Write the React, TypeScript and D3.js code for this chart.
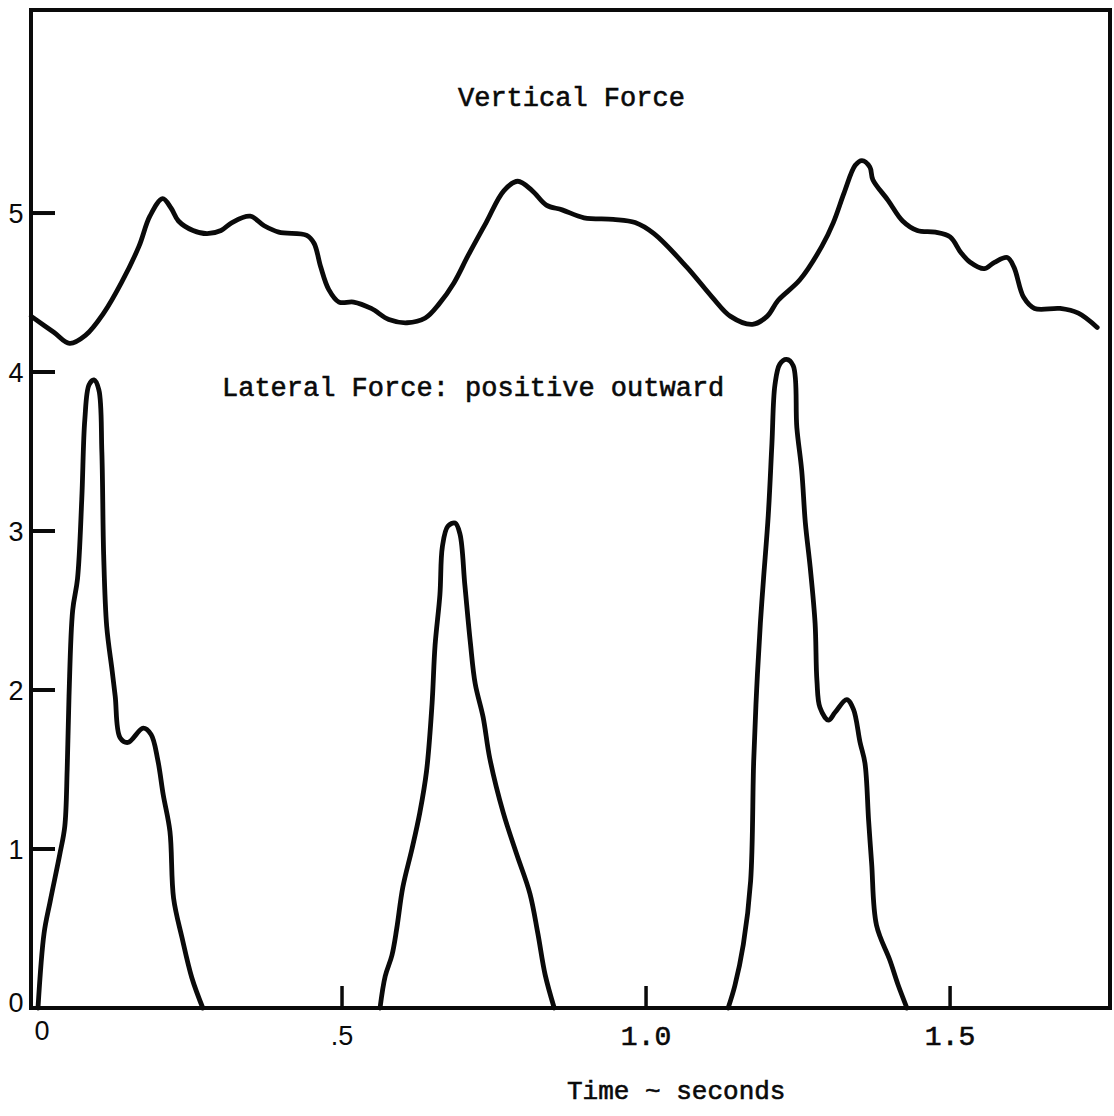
import React, { useRef, useEffect } from "react";
import * as d3 from "d3";

// vertical force trace (time in s, force units)
const verticalTime = [
  -0.011, 0.026, 0.052, 0.078, 0.108, 0.137, 0.166, 0.184, 0.205, 0.219, 0.231,
  0.255, 0.278, 0.301, 0.319, 0.349, 0.372, 0.396, 0.442, 0.454, 0.465, 0.478,
  0.495, 0.519, 0.548, 0.577, 0.607, 0.637, 0.66, 0.684, 0.707, 0.737, 0.766,
  0.789, 0.813, 0.836, 0.862, 0.898, 0.946, 0.982, 1.013, 1.067, 1.109, 1.139,
  1.175, 1.199, 1.217, 1.253, 1.289, 1.308, 1.326, 1.344, 1.355, 1.368, 1.373,
  1.398, 1.422, 1.446, 1.476, 1.5, 1.518, 1.533, 1.556, 1.573, 1.594, 1.605,
  1.621, 1.639, 1.681, 1.711, 1.742,
];
const verticalForce = [
  4.35, 4.25, 4.18, 4.23, 4.37, 4.56, 4.79, 4.98, 5.09, 5.03, 4.95,
  4.89, 4.87, 4.89, 4.94, 4.98, 4.92, 4.88, 4.86, 4.81, 4.66, 4.52,
  4.44, 4.44, 4.4, 4.33, 4.31, 4.34, 4.43, 4.56, 4.73, 4.94, 5.14,
  5.2, 5.14, 5.05, 5.02, 4.97, 4.96, 4.94, 4.87, 4.66, 4.47, 4.35,
  4.3, 4.35, 4.45, 4.58, 4.79, 4.94, 5.13, 5.3, 5.33, 5.29, 5.21,
  5.08, 4.95, 4.89, 4.88, 4.85, 4.75, 4.69, 4.65, 4.69, 4.72, 4.66,
  4.47, 4.4, 4.4, 4.37, 4.28,
];

// lateral force pulses
const lateral1Time = [
  0, 0.01, 0.02, 0.036, 0.044, 0.048, 0.051, 0.057, 0.065, 0.072, 0.077,
  0.084, 0.092, 0.1, 0.105, 0.108, 0.113, 0.122, 0.127, 0.135, 0.148, 0.173,
  0.186, 0.197, 0.206, 0.217, 0.223, 0.237, 0.253, 0.271,
];
const lateral1Force = [
  0, 0.47, 0.67, 0.97, 1.14, 1.5, 1.96, 2.5, 2.7, 3.2, 3.7,
  3.92, 3.95, 3.89, 3.5, 2.85, 2.4, 2.12, 1.96, 1.7, 1.67, 1.76,
  1.72, 1.56, 1.34, 1.11, 0.69, 0.44, 0.19, 0,
];
const lateral2Time = [
  0.5625, 0.571, 0.582, 0.59, 0.6, 0.615, 0.628, 0.639, 0.648, 0.653, 0.661,
  0.665, 0.674, 0.686, 0.694, 0.702, 0.711, 0.719, 0.732, 0.743, 0.765, 0.787,
  0.809, 0.822, 0.834, 0.849,
];
const lateral2Force = [
  0, 0.2, 0.33, 0.5, 0.76, 1.0, 1.23, 1.49, 1.91, 2.28, 2.6,
  2.9, 3.03, 3.05, 2.98, 2.66, 2.3, 2.04, 1.83, 1.57, 1.23, 0.97,
  0.72, 0.47, 0.21, 0,
];
const lateral3Time = [
  1.135, 1.146, 1.16, 1.172, 1.177, 1.182, 1.188, 1.193, 1.201, 1.207,
  1.212, 1.22, 1.231, 1.242, 1.248, 1.256, 1.262, 1.27, 1.278, 1.281, 1.286,
  1.3, 1.311, 1.33, 1.341, 1.352, 1.36, 1.366, 1.371, 1.379, 1.401, 1.415, 1.429,
];
const lateral3Force = [
  0, 0.14, 0.4, 0.8, 1.55, 2.01, 2.42, 2.69, 3.1, 3.55,
  3.92, 4.05, 4.08, 4.04, 3.65, 3.38, 3.05, 2.77, 2.42, 2.06, 1.89,
  1.81, 1.86, 1.94, 1.88, 1.67, 1.54, 1.18, 0.91, 0.52, 0.3, 0.14, 0,
];

const yTickValues = [0, 1, 2, 3, 4, 5];
const xTickValues = [0, 0.5, 1.0, 1.5];
const xTickLabels = ["0", ".5", "1.0", "1.5"];

const App = () => {
  const svgRef = useRef(null);

  useEffect(() => {
    const svg = d3.select(svgRef.current);
    svg.selectAll("*").remove();
    const width = 1114;
    const height = 1116;
    const left = 31;
    const right = 1110;
    const top = 10;
    const bottom = 1008;
    const ink = "#0a0a0a";
    const mono = "'Courier New', 'Liberation Mono', monospace";
    const sans = "'Liberation Sans', Arial, sans-serif";

    svg.attr("width", width).attr("height", height);
    svg.append("rect").attr("width", width).attr("height", height).attr("fill", "#fff");

    const x = d3.scaleLinear().domain([-0.0115, 1.763]).range([left, right]);
    const y = d3.scaleLinear().domain([0, 6.277]).range([bottom, top]);

    // frame
    svg
      .append("rect")
      .attr("x", left)
      .attr("y", top)
      .attr("width", right - left)
      .attr("height", bottom - top)
      .attr("fill", "none")
      .attr("stroke", ink)
      .attr("stroke-width", 4);

    // y ticks (no tick mark at 0)
    svg
      .selectAll(".ytick")
      .data(yTickValues.filter((d) => d > 0))
      .enter()
      .append("line")
      .attr("x1", left)
      .attr("x2", left + 24)
      .attr("y1", (d) => y(d))
      .attr("y2", (d) => y(d))
      .attr("stroke", ink)
      .attr("stroke-width", 4);

    svg
      .selectAll(".ylab")
      .data(yTickValues)
      .enter()
      .append("text")
      .attr("x", 16)
      .attr("y", (d) => (d === 0 ? y(d) + 4 : y(d) + 10))
      .attr("text-anchor", "middle")
      .attr("font-family", sans)
      .attr("font-size", 27)
      .attr("fill", ink)
      .text((d) => d);

    // x ticks (pointing up, none at 0)
    svg
      .selectAll(".xtick")
      .data(xTickValues.filter((d) => d > 0))
      .enter()
      .append("line")
      .attr("x1", (d) => x(d))
      .attr("x2", (d) => x(d))
      .attr("y1", bottom)
      .attr("y2", bottom - 22)
      .attr("stroke", ink)
      .attr("stroke-width", 3.5);

    svg
      .selectAll(".xlab")
      .data(xTickValues)
      .enter()
      .append("text")
      .attr("x", (d) => x(d) + (d === 0 ? 4 : 0))
      .attr("y", (d) => (d === 0 ? 1040 : 1045))
      .attr("text-anchor", "middle")
      .attr("font-family", (d) => (d >= 1 ? mono : sans))
      .attr("font-size", (d) => (d >= 1 ? 28 : 27))
      .attr("fill", ink)
      .attr("stroke", (d) => (d >= 1 ? ink : "none"))
      .attr("stroke-width", 0.6)
      .text((d, i) => xTickLabels[i]);

    const line = d3
      .line()
      .x((d) => x(d[0]))
      .y((d) => y(d[1]))
      .curve(d3.curveCatmullRom.alpha(0.5));

    const traces = [
      [verticalTime, verticalForce],
      [lateral1Time, lateral1Force],
      [lateral2Time, lateral2Force],
      [lateral3Time, lateral3Force],
    ];

    traces.forEach(([t, f]) => {
      svg
        .append("path")
        .datum(t.map((d, i) => [d, f[i]]))
        .attr("fill", "none")
        .attr("stroke", ink)
        .attr("stroke-width", 4.8)
        .attr("stroke-linejoin", "round")
        .attr("stroke-linecap", "round")
        .attr("d", line);
    });

    // annotations
    const labels = [
      { text: "Vertical Force", x: 458, y: 106, size: 27 },
      { text: "Lateral Force: positive outward", x: 222, y: 396, size: 27 },
      { text: "Time ~ seconds", x: 567, y: 1099, size: 26 },
    ];
    svg
      .selectAll(".note")
      .data(labels)
      .enter()
      .append("text")
      .attr("x", (d) => d.x)
      .attr("y", (d) => d.y)
      .attr("font-family", mono)
      .attr("font-size", (d) => d.size)
      .attr("fill", ink)
      .attr("stroke", ink)
      .attr("stroke-width", 0.6)
      .text((d) => d.text);
  }, []);

  return (
    <svg
      ref={svgRef}
      style={{ position: "absolute", left: 0, top: 0, display: "block" }}
    ></svg>
  );
};

export default App;
